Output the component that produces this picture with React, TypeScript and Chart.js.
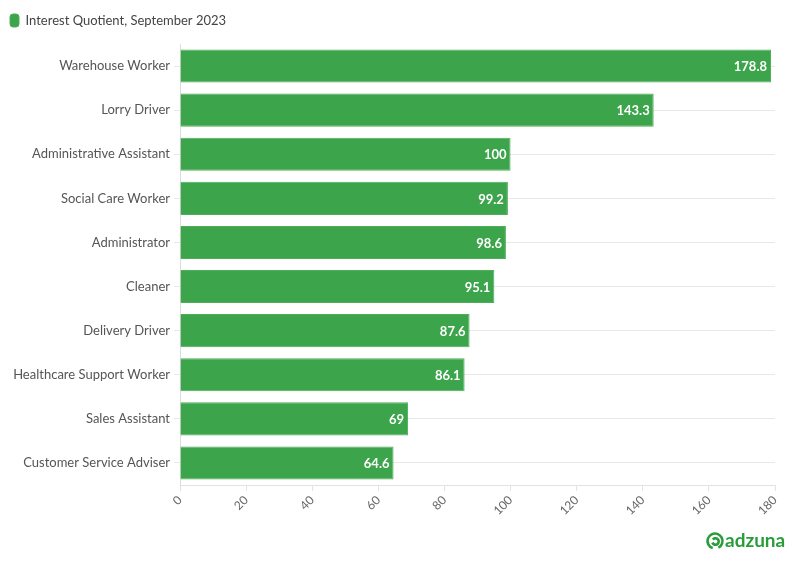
import React, { useEffect, useRef } from "react";
import { Chart, registerables, layouts } from "chart.js";

Chart.register(...registerables);

const categories = [
  "Warehouse Worker",
  "Lorry Driver",
  "Administrative Assistant",
  "Social Care Worker",
  "Administrator",
  "Cleaner",
  "Delivery Driver",
  "Healthcare Support Worker",
  "Sales Assistant",
  "Customer Service Adviser",
];
const values = [178.8, 143.3, 100, 99.2, 98.6, 95.1, 87.6, 86.1, 69, 64.6];
const seriesName = "Interest Quotient, September 2023";
const xTicks = [0, 20, 40, 60, 80, 100, 120, 140, 160, 180];

const FONT = "Lato, 'Noto Sans', sans-serif";
const GREEN = "#3ca44a";

const spacer = {
  id: "spacer",
  beforeInit(chart: any) {
    const box: any = {
      position: "top",
      weight: 0,
      fullSize: true,
      options: { stackWeight: 1 },
      width: 0,
      height: 0,
      top: 0,
      left: 0,
      right: 0,
      bottom: 0,
      isHorizontal() {
        return true;
      },
      update(maxWidth: number) {
        this.width = maxWidth;
        this.height = 7;
        return { width: this.width, height: this.height };
      },
      draw() {},
    };
    layouts.addBox(chart, box);
  },
};

const valueLabels = {
  id: "valueLabels",
  afterDatasetsDraw(chart: any) {
    const ctx = chart.ctx;
    const meta = chart.getDatasetMeta(0);
    ctx.save();
    ctx.font = `bold 13px ${FONT}`;
    ctx.fillStyle = "#ffffff";
    ctx.textAlign = "right";
    ctx.textBaseline = "middle";
    meta.data.forEach((bar: any, i: number) => {
      ctx.fillText(String(values[i]), bar.x - 4, bar.y + 1);
    });
    ctx.restore();
  },
};

const logo = {
  id: "logo",
  afterDraw(chart: any) {
    const ctx = chart.ctx;
    ctx.save();
    ctx.strokeStyle = "#2a9d3a";
    ctx.lineWidth = 2.6;
    ctx.beginPath();
    ctx.arc(715, 541, 7.5, Math.PI * 0.6, Math.PI * 2.35);
    ctx.stroke();
    ctx.beginPath();
    ctx.arc(715.5, 541.5, 3.2, Math.PI * 1.2, Math.PI * 2.9);
    ctx.stroke();
    ctx.fillStyle = "#2a9d3a";
    ctx.font = `bold 19px ${FONT}`;
    ctx.textAlign = "left";
    ctx.textBaseline = "middle";
    ctx.fillText("adzuna", 725, 541);
    ctx.restore();
  },
};

export default function App() {
  const ref = useRef<HTMLCanvasElement | null>(null);
  useEffect(() => {
    document.body.style.margin = "0";
    if (!ref.current) return;
    const chart = new Chart(ref.current, {
      type: "bar",
      data: {
        labels: categories,
        datasets: [
          {
            label: seriesName,
            data: values,
            backgroundColor: GREEN,
            borderColor: "#4caf58",
            borderWidth: 1,
            barPercentage: 0.75,
            categoryPercentage: 1,
          },
        ],
      },
      options: {
        indexAxis: "y",
        animation: false,
        responsive: false,
        devicePixelRatio: 1,
        layout: { padding: { left: 0, right: 21, top: 4, bottom: 40 } },
        plugins: {
          legend: {
            display: true,
            position: "top",
            align: "start",
            labels: {
              boxWidth: 9,
              boxHeight: 13,
              useBorderRadius: true,
              borderRadius: 3,
              color: "#444",
              padding: 10,
              font: { family: FONT, size: 13 },
            },
          },
          tooltip: { enabled: false },
        },
        scales: {
          x: {
            min: 0,
            max: 180,
            afterBuildTicks(scale: any) {
              scale.ticks = xTicks.map((v) => ({ value: v }));
            },
            afterFit(scale: any) {
              scale.height = 40;
            },
            grid: {
              drawOnChartArea: false,
              drawTicks: true,
              tickLength: 6,
              color: "#e3e3e3",
            },
            border: { display: true, color: "#e3e3e3" },
            ticks: {
              color: "#666",
              minRotation: 45,
              maxRotation: 45,
              padding: 2,
              font: { family: FONT, size: 12 },
            },
          },
          y: {
            afterFit(scale: any) {
              scale.width = 180;
            },
            grid: {
              offset: false,
              color: "#e8e8e8",
              tickLength: 6,
            },
            border: { display: true, color: "#dcdcdc" },
            ticks: {
              color: "#555",
              padding: 4,
              font: { family: FONT, size: 13 },
            },
          },
        },
      },
      plugins: [spacer, valueLabels, logo],
    } as any);
    return () => chart.destroy();
  }, []);
  return (
    <div style={{ width: 796, height: 565, background: "#fff" }}>
      <canvas ref={ref} width={796} height={565} style={{ display: "block" }} />
    </div>
  );
}
